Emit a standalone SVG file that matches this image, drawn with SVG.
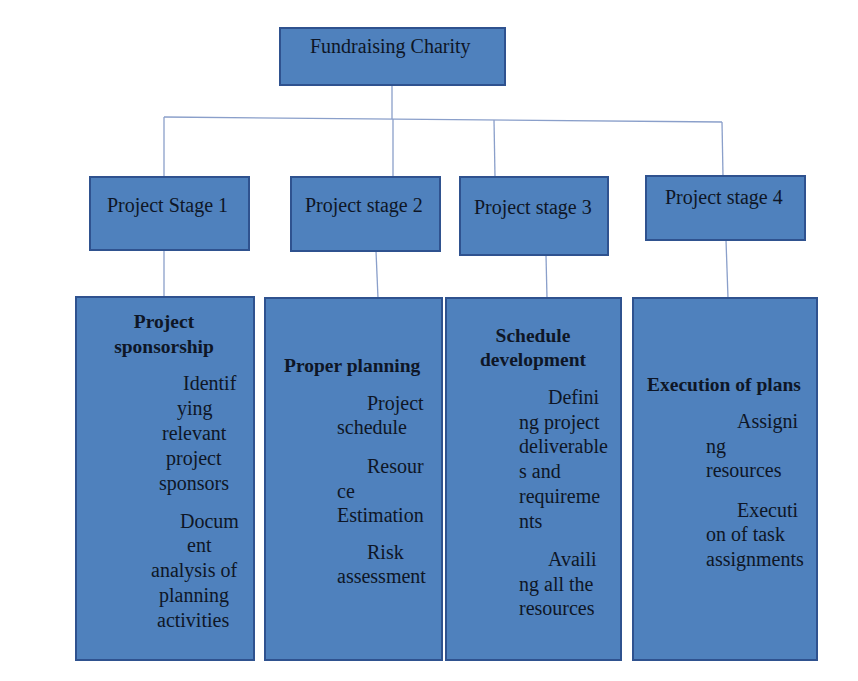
<svg xmlns="http://www.w3.org/2000/svg" width="858" height="681" viewBox="0 0 858 681">
<style>
.box{fill:#4f81bd;stroke:#2f528f;stroke-width:2}
.t{font-family:"Liberation Serif","Times New Roman",serif;font-size:20px;fill:#0e1626}
.b{font-family:"Liberation Serif","Times New Roman",serif;font-size:19.5px;font-weight:bold;fill:#0e1626}
.m{text-anchor:middle}
.c{stroke:#8a9fca;stroke-width:1.3;fill:none}
</style>
<rect width="858" height="681" fill="#ffffff"/>
<g id="connectors">
<line class="c" x1="392" y1="85" x2="392" y2="119"/>
<line class="c" x1="164" y1="117" x2="722" y2="122"/>
<line class="c" x1="164" y1="117" x2="164" y2="177"/>
<line class="c" x1="393" y1="119" x2="393" y2="177"/>
<line class="c" x1="494" y1="120" x2="495" y2="177"/>
<line class="c" x1="722" y1="122" x2="723" y2="176"/>
<line class="c" x1="164" y1="250" x2="164" y2="297"/>
<line class="c" x1="376" y1="251" x2="378" y2="298"/>
<line class="c" x1="546" y1="255" x2="547" y2="298"/>
<line class="c" x1="726" y1="240" x2="728" y2="298"/>
</g>
<g id="root">
<rect class="box" x="280" y="28" width="225" height="57"/>
<text class="t" x="310" y="53">Fundraising Charity</text>
</g>
<g id="stage1">
<rect class="box" x="90" y="177" width="159" height="73"/>
<text class="t" x="107" y="212">Project Stage 1</text>
</g>
<g id="stage2">
<rect class="box" x="291" y="177" width="149" height="74"/>
<text class="t" x="305" y="212">Project stage 2</text>
</g>
<g id="stage3">
<rect class="box" x="460" y="177" width="148" height="78"/>
<text class="t" x="474" y="214">Project stage 3</text>
</g>
<g id="stage4">
<rect class="box" x="646" y="176" width="159" height="64"/>
<text class="t" x="665" y="204">Project stage 4</text>
</g>
<g id="detail1">
<rect class="box" x="76" y="297" width="178" height="363"/>
<text class="b m" x="164" y="328">Project</text>
<text class="b m" x="164" y="353">sponsorship</text>
<text class="t" x="183" y="390">Identif</text>
<text class="t" x="177" y="415">ying</text>
<text class="t" x="162" y="440">relevant</text>
<text class="t" x="166" y="465">project</text>
<text class="t" x="159" y="490">sponsors</text>
<text class="t" x="180" y="528">Docum</text>
<text class="t" x="187" y="552">ent</text>
<text class="t" x="151" y="577">analysis of</text>
<text class="t" x="159" y="602">planning</text>
<text class="t" x="157" y="627">activities</text>
</g>
<g id="detail2">
<rect class="box" x="265" y="298" width="177" height="362"/>
<text class="b" x="284" y="372">Proper planning</text>
<text class="t" x="367" y="410">Project</text>
<text class="t" x="337" y="434">schedule</text>
<text class="t" x="367" y="473">Resour</text>
<text class="t" x="337" y="498">ce</text>
<text class="t" x="337" y="522">Estimation</text>
<text class="t" x="367" y="559">Risk</text>
<text class="t" x="337" y="583">assessment</text>
</g>
<g id="detail3">
<rect class="box" x="446" y="298" width="175" height="362"/>
<text class="b m" x="533" y="342">Schedule</text>
<text class="b m" x="533" y="366">development</text>
<text class="t" x="548" y="404">Defini</text>
<text class="t" x="519" y="429">ng project</text>
<text class="t" x="519" y="453">deliverable</text>
<text class="t" x="519" y="478">s and</text>
<text class="t" x="519" y="503">requireme</text>
<text class="t" x="519" y="528">nts</text>
<text class="t" x="548" y="566">Availi</text>
<text class="t" x="519" y="591">ng all the</text>
<text class="t" x="519" y="615">resources</text>
</g>
<g id="detail4">
<rect class="box" x="633" y="298" width="184" height="362"/>
<text class="b" x="647" y="391">Execution of plans</text>
<text class="t" x="737" y="428">Assigni</text>
<text class="t" x="706" y="453">ng</text>
<text class="t" x="706" y="477">resources</text>
<text class="t" x="737" y="517">Executi</text>
<text class="t" x="706" y="541">on of task</text>
<text class="t" x="706" y="566">assignments</text>
</g>
</svg>
